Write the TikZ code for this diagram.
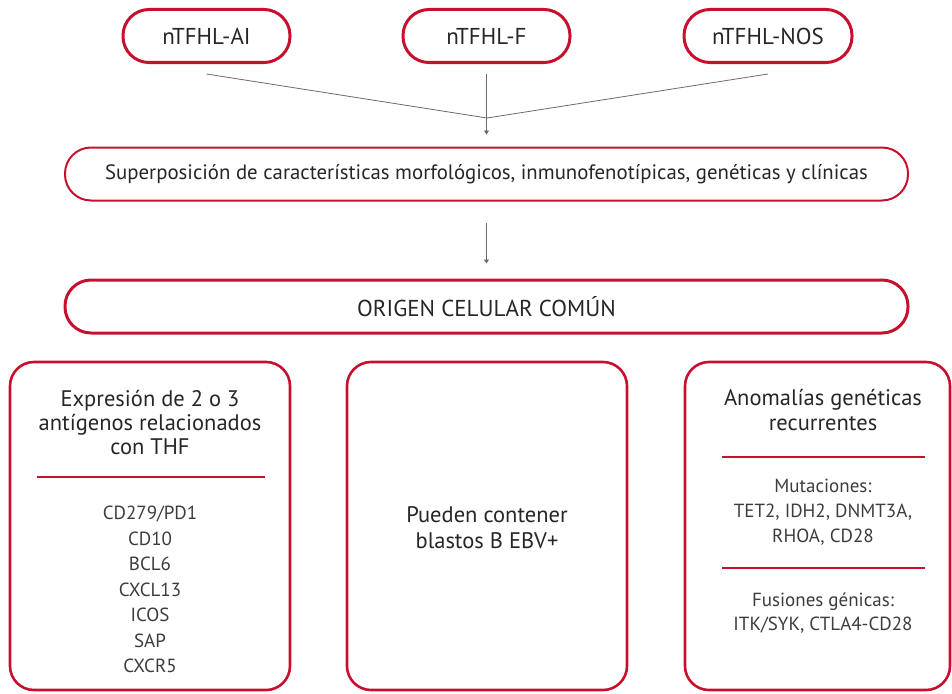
\documentclass[tikz,border=0pt]{standalone}
\usepackage{fontspec}
\setmainfont{PT Sans}
\usetikzlibrary{arrows.meta}
\definecolor{hemred}{HTML}{C8102E}
\definecolor{linkgray}{HTML}{6A6A6A}
\definecolor{itemgray}{HTML}{3C3C3C}

\begin{document}
\begin{tikzpicture}[x=1pt,y=-1pt,
    pill/.style={draw=hemred, line width=3pt, rounded corners=26pt, minimum height=53pt, inner sep=0pt, font=\fontsize{23}{26}\selectfont, text=black!85},
    panel/.style={draw=hemred, line width=2.6pt, rounded corners=24pt, minimum height=328pt, inner sep=0pt},
    link/.style={draw=linkgray, line width=0.8pt},
    arrow/.style={link, -{Triangle[width=5pt,length=4pt]}},
    sep/.style={draw=hemred, line width=1.3pt},
    head/.style={anchor=base, font=\fontsize{22.5}{26}\selectfont, text=black!85},
    item/.style={anchor=base, font=\fontsize{19}{24}\selectfont, text=itemgray}]
\useasboundingbox (0,0) rectangle (952,693);

\node[pill, minimum width=167pt] (ai) at (206.5,36) {nTFHL-AI};
\node[pill, minimum width=167pt] (f) at (486.5,36) {nTFHL-F};
\node[pill, minimum width=168pt] (nos) at (768,36) {nTFHL-NOS};
\coordinate (join) at (487,118);

\node[pill, line width=2pt, minimum width=843pt, font=\fontsize{20.8}{24}\selectfont] (superpos) at (486.5,174) {Superposición de características morfológicos, inmunofenotípicas, genéticas y clínicas};
\node[pill, minimum width=843pt] (origen) at (486.5,306.5) {ORIGEN CELULAR COMÚN};

\draw[link] ([yshift=-10pt]ai.south) -- (join);
\draw[link] ([yshift=-10pt]nos.south) -- (join);
\draw[arrow] ([yshift=-10pt]f.south) -- ([yshift=12pt]superpos.north);
\draw[arrow] ([yshift=-21pt]superpos.south) -- ([yshift=15pt]origen.north);

% bottom panels
\node[panel, minimum width=280pt] (exprbox) at (150,526) {};
\node[panel, minimum width=280pt] (blastbox) at (487,526) {};
\node[panel, minimum width=265pt] (anombox) at (817.5,526) {};

    \node[head] (expr1) at (150,406) {Expresión de 2 o 3};
    \node[head] (expr2) at (150,430) {antígenos relacionados};
    \node[head] (expr3) at (150,454) {con THF};
    \draw[sep] (37,477) -- (265,477);
    \node[item] (cd279) at (150,519.5) {CD279/PD1};
    \node[item] (cd10) at (150,545) {CD10};
    \node[item] (bcl6) at (150,570.5) {BCL6};
    \node[item] (cxcl13) at (150,596) {CXCL13};
    \node[item] (icos) at (150,621.5) {ICOS};
    \node[item] (sap) at (150,647) {SAP};
    \node[item] (cxcr5) at (150,672.5) {CXCR5};

    \node[head] (blast1) at (487,522) {Pueden contener};
    \node[head] (blast2) at (487,548) {blastos B EBV+};

    \node[head] (anom1) at (823,405) {Anomalías genéticas};
    \node[head] (anom2) at (823,430) {recurrentes};
    \draw[sep] (722,457) -- (925,457);
    \node[item] (mut1) at (823,492) {Mutaciones:};
    \node[item] (mut2) at (823,517) {TET2, IDH2, DNMT3A,};
    \node[item] (mut3) at (823,542) {RHOA, CD28};
    \draw[sep] (722,568) -- (925,568);
    \node[item] (fus1) at (823,606) {Fusiones génicas:};
    \node[item] (fus2) at (823,630) {ITK/SYK, CTLA4-CD28};
\end{tikzpicture}
\end{document}
